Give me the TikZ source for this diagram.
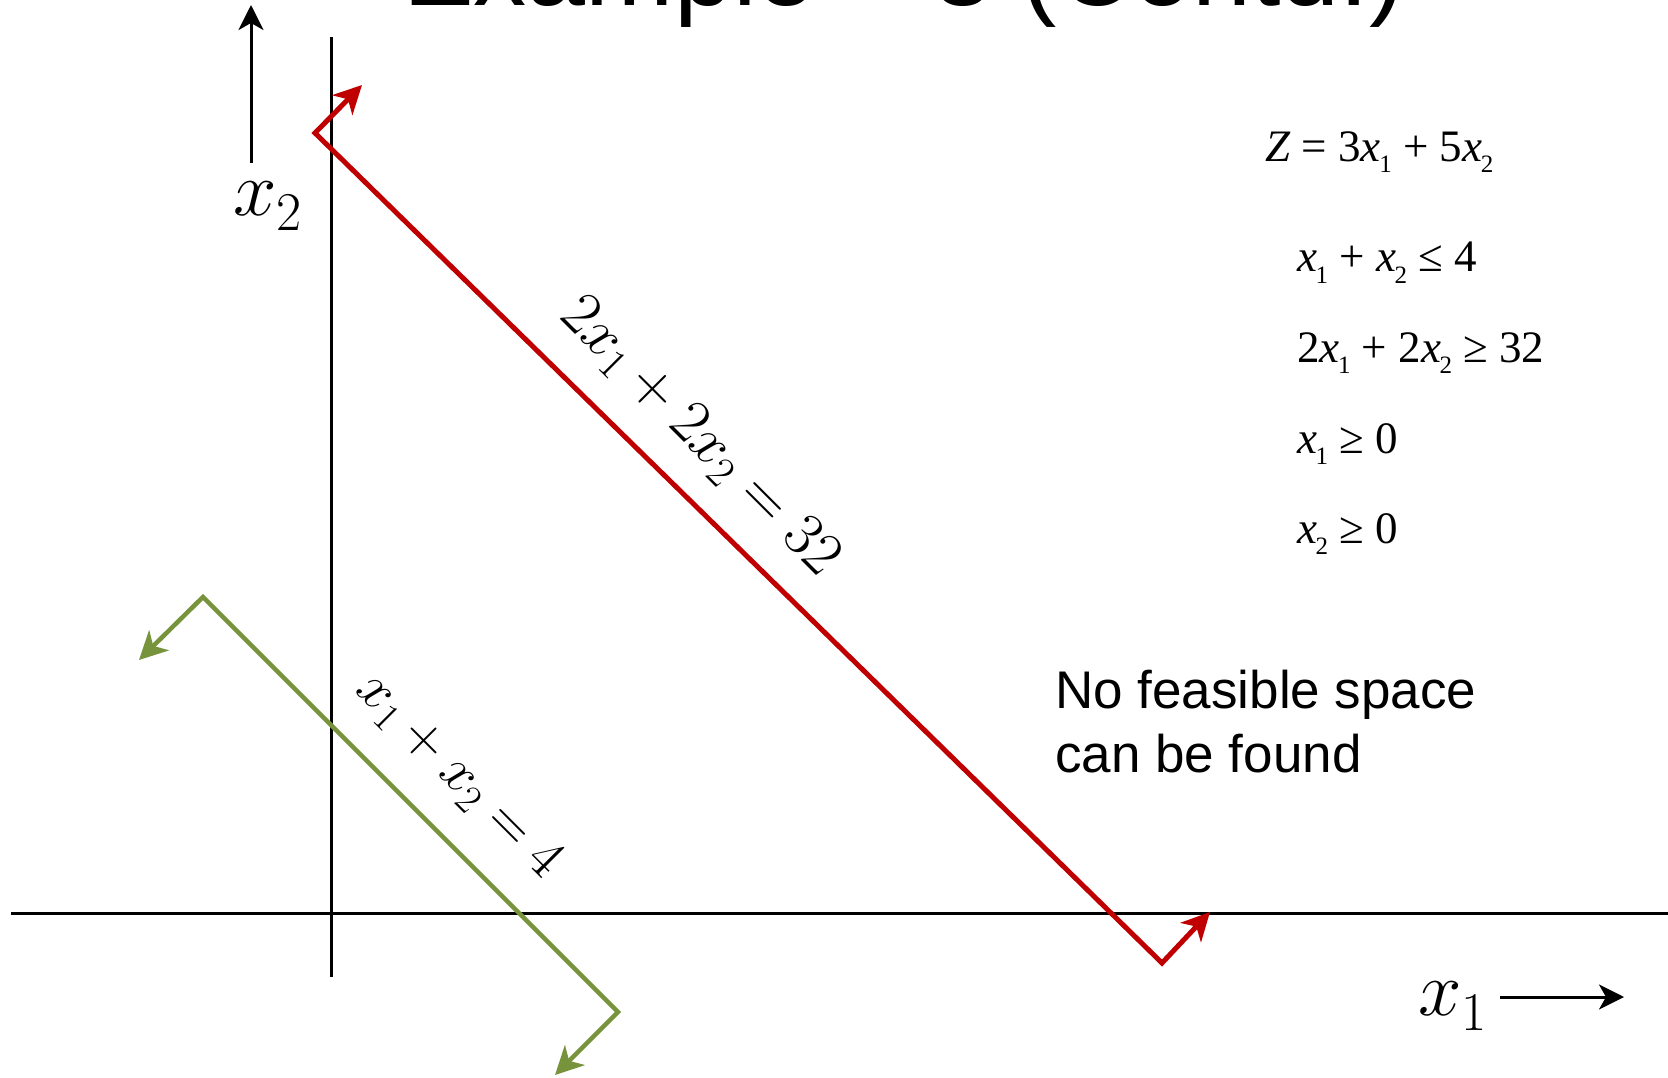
\RequirePackage{fix-cm}
\documentclass[tikz,border=0pt]{standalone}
\usepackage[no-math]{fontspec}
\setmainfont{Liberation Sans}
\newfontfamily\tnr{Liberation Serif}
\usetikzlibrary{arrows.meta}
\definecolor{lpred}{RGB}{192,0,0}
\definecolor{lpgreen}{RGB}{119,147,60}
\newcommand\vx[1]{\textit{x}\kern-1.5pt\raisebox{-11pt}{\fontsize{25}{25}\selectfont #1}}
\begin{document}
\begin{tikzpicture}[x=1pt,y=-1pt,
  axisline/.style={line width=3pt,black},
  redline/.style={line width=5pt,lpred,line join=miter},
  greenline/.style={line width=4.5pt,lpgreen,line join=miter},
  bothtip/.style={{Stealth[length=28pt,width=28pt,inset=8pt]}-{Stealth[length=28pt,width=28pt,inset=8pt]}},
  axtip/.style={-{Stealth[length=25pt,width=25pt,inset=7pt]}},
  bigmath/.style={font=\fontsize{78}{78}\selectfont,inner sep=0pt,anchor=base west},
  rotlabel/.style={font=\fontsize{57}{57}\selectfont,inner sep=0pt,rotate=-45},
  cons/.style={font=\tnr\fontsize{45}{45}\selectfont,inner sep=0pt,anchor=base west},
  note/.style={font=\fontsize{53}{64}\selectfont,inner sep=0pt,anchor=base west,align=left}
]
\useasboundingbox (0,0) rectangle (1668,1078);
\fill[white] (0,0) rectangle (1668,1078);

% title (cut off at top)
\node[font=\fontsize{106}{106}\selectfont,inner sep=0pt,anchor=base west] (title) at (403,6) {Example – 3 (Contd.)};

% axes
\coordinate (xl) at (11,913);
\coordinate (xr) at (1668,913);
\coordinate (yt) at (331,37);
\coordinate (yb) at (331,977);
\draw[axisline] (xl) -- (xr);
\draw[axisline] (yt) -- (yb);

% axis arrows
\coordinate (a2s) at (251,163);
\coordinate (a2e) at (251,5);
\draw[axisline,axtip] (a2s) -- (a2e);
\coordinate (a1s) at (1500,997);
\coordinate (a1e) at (1624,997);
\draw[axisline,axtip] (a1s) -- (a1e);
\node[bigmath] (lx2) at (233,215) {$x_{\lower4pt\hbox{$\scriptstyle 2$}}$};
\node[bigmath] (lx1) at (1418,1015) {$x_{\lower4pt\hbox{$\scriptstyle 1$}}$};

% red constraint line
\coordinate (rt1) at (362,85);
\coordinate (rv1) at (315,133);
\coordinate (rv2) at (1162,963);
\coordinate (rt2) at (1210,912);
\draw[redline,bothtip] (rt1) -- (rv1) -- (rv2) -- (rt2);

% green constraint line
\coordinate (gt1) at (139,660);
\coordinate (gv1) at (203,597);
\coordinate (gv2) at (618,1012);
\coordinate (gt2) at (555,1075);
\draw[greenline,bothtip] (gt1) -- (gv1) -- (gv2) -- (gt2);

% rotated labels
\node[rotlabel,font=\fontsize{61}{61}\selectfont] (lred) at (700,437) {$2x_1 + 2x_2 = 32$};
\node[rotlabel] (lgreen) at (459,776) {$x_1 + x_2 = 4$};

% model
\node[cons] (obj) at (1265,162) {\textit{Z} = 3\vx{1} + 5\vx{2}};
\node[cons] (c1) at (1297,272) {\vx{1} + \vx{2} ≤ 4};
\node[cons] (c2) at (1297,362) {2\vx{1} + 2\vx{2} ≥ 32};
\node[cons] (c3) at (1297,453) {\vx{1} ≥ 0};
\node[cons] (c4) at (1297,543) {\vx{2} ≥ 0};

% note
\node[note] (nf) at (1055,772) {No feasible space\\can be found};
\end{tikzpicture}
\end{document}
